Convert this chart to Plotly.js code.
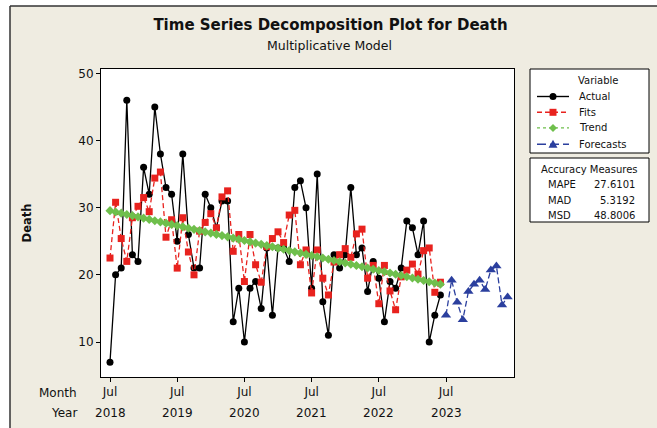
<!DOCTYPE html>
<html><head><meta charset="utf-8">
<script src="https://cdn.plot.ly/plotly-3.0.1.min.js"></script>
<style>html,body{margin:0;padding:0;background:#fff;}#chart{width:657px;height:428px;}</style>
</head><body><div id="chart"></div>
<script>
// ---- data (month index 0 = Jul 2018) ----
const actual = [7,20,21,46,23,22,36,32,45,38,33,32,
                25,38,26,21,21,32,30,27,31,31,13,18,
                10,18,19,15,24,14,24,24,22,33,34,30,
                18,35,16,11,23,21,23,33,23,24,17.5,22,
                19.5,13,19,18,21,28,27,23,28,10,14,17];
const fits = [22.5,30.8,25.4,22.0,28.5,30.2,31.5,29.4,34.4,35.3,25.6,28.2,
              21.0,28.5,23.4,20.0,26.5,27.8,29.1,27.0,31.6,32.5,23.5,26.0,
              19.0,26.0,21.5,18.9,24.2,25.4,26.4,24.8,28.9,29.6,21.5,23.7,
              17.3,23.7,19.5,17.0,21.9,23.0,23.9,22.6,26.1,26.8,19.5,21.4,
              15.7,21.4,17.6,14.8,19.7,20.7,21.6,20.1,23.6,24.0,17.4,18.9];
const trend = [29.55,29.36,29.18,28.99,28.81,28.62,28.44,28.25,28.06,27.88,27.69,27.51,
               27.32,27.14,26.95,26.77,26.58,26.39,26.21,26.02,25.84,25.65,25.47,25.28,
               25.10,24.91,24.72,24.54,24.35,24.17,23.98,23.80,23.61,23.42,23.24,23.05,
               22.87,22.68,22.50,22.31,22.13,21.94,21.75,21.57,21.38,21.20,21.01,20.83,
               20.64,20.46,20.27,20.08,19.90,19.71,19.53,19.34,19.16,18.97,18.79,18.60];
const forecasts = [14.0,19.2,15.9,13.3,17.5,18.6,19.2,17.8,20.7,21.3,15.5,16.7];
const tickVals = [0,12,24,36,48,60];
const tickMonths = ['Jul','Jul','Jul','Jul','Jul','Jul'];
const tickYears = ['2018','2019','2020','2021','2022','2023'];
const legendNames = ['Actual','Fits','Trend','Forecasts'];
const measureNames = ['MAPE','MAD','MSD'];
const measureValues = ['27.6101','5.3192','48.8006'];

const t = actual.map((_, i) => i);
const tf = forecasts.map((_, i) => actual.length + i);

const FONT = 'DejaVu Sans';
const RED = '#e8221e', GREEN = '#6fbf4c', BLUE = '#2b3f9e', BLACK = '#000000';
const BEIGE = '#efece1';

// pixel helpers for layout placement
const L = 101, R = 514, T = 69, B = 377;
const px = x => (x - L) / (R - L);
const py = y => (B - y) / (B - T);

const traces = [
  {x: t, y: actual, name: 'Actual', mode: 'lines+markers',
   line: {color: BLACK, width: 1.3}, marker: {symbol: 'circle', size: 7, color: BLACK}},
  {x: t, y: fits, name: 'Fits', mode: 'lines+markers',
   line: {color: RED, width: 1.3, dash: '5px,3px'}, marker: {symbol: 'square', size: 7, color: RED}},
  {x: t, y: trend, name: 'Trend', mode: 'lines+markers',
   line: {color: GREEN, width: 1.3, dash: '3px,3px'}, marker: {symbol: 'diamond', size: 7, color: GREEN}},
  {x: tf, y: forecasts, name: 'Forecasts', mode: 'lines+markers',
   line: {color: BLUE, width: 1.3, dash: '6px,3px'}, marker: {symbol: 'triangle-up', size: 9, color: BLUE}}
];
traces.forEach(tr => tr.showlegend = false);

const shapes = [
  // white strips outside the outer frame + frame lines
  {type:'rect', xref:'paper', yref:'paper', x0:px(-20), x1:px(10), y0:py(480), y1:py(-20), fillcolor:'#ffffff', line:{width:0}, layer:'below'},
  {type:'rect', xref:'paper', yref:'paper', x0:px(-20), x1:px(700), y0:py(6), y1:py(-20), fillcolor:'#ffffff', line:{width:0}, layer:'below'},
  {type:'line', xref:'paper', yref:'paper', x0:px(10), x1:px(10), y0:py(6), y1:py(480), line:{color:'#333', width:1.5}, layer:'below'},
  {type:'line', xref:'paper', yref:'paper', x0:px(10), x1:px(700), y0:py(6), y1:py(6), line:{color:'#333', width:1.5}, layer:'below'},
  // legend box
  {type:'rect', xref:'paper', yref:'paper', x0:px(530), x1:px(649), y0:py(153), y1:py(69), fillcolor:'#ffffff', line:{color:'#000', width:1}},
  // accuracy box
  {type:'rect', xref:'paper', yref:'paper', x0:px(530), x1:px(649), y0:py(222), y1:py(158), fillcolor:'#ffffff', line:{color:'#000', width:1}}
];
const annotations = [];

// legend entries
const legY = [96.5, 112.3, 127.9, 144.3];
const legStyle = [
  {c: BLACK, dash: 'solid'}, {c: RED, dash: '5px,3px'}, {c: GREEN, dash: '3px,3px'}, {c: BLUE, dash: '9px,4px'}
];
const mx = 553;
legendNames.forEach((nm, k) => {
  const y = legY[k], s = legStyle[k];
  shapes.push({type:'line', xref:'paper', yref:'paper', x0:px(537), x1:px(569), y0:py(y), y1:py(y),
               line:{color:s.c, width:1.4, dash:s.dash}});
  if (k === 0) {
    shapes.push({type:'circle', xref:'paper', yref:'paper', x0:px(mx-3.5), x1:px(mx+3.5), y0:py(y+3.5), y1:py(y-3.5), fillcolor:s.c, line:{width:0}});
  } else if (k === 1) {
    shapes.push({type:'rect', xref:'paper', yref:'paper', x0:px(mx-3.5), x1:px(mx+3.5), y0:py(y+3.5), y1:py(y-3.5), fillcolor:s.c, line:{width:0}});
  } else if (k === 2) {
    const p = `M${px(mx)},${py(y-4)} L${px(mx+4)},${py(y)} L${px(mx)},${py(y+4)} L${px(mx-4)},${py(y)} Z`;
    shapes.push({type:'path', xref:'paper', yref:'paper', path:p, fillcolor:s.c, line:{width:0}});
  } else {
    const p = `M${px(mx)},${py(y-4.5)} L${px(mx+4.5)},${py(y+3.5)} L${px(mx-4.5)},${py(y+3.5)} Z`;
    shapes.push({type:'path', xref:'paper', yref:'paper', path:p, fillcolor:s.c, line:{width:0}});
  }
  annotations.push({xref:'paper', yref:'paper', x:px(577), y:py(y), xanchor:'left', yanchor:'middle',
                    text:nm, showarrow:false, font:{family:FONT, size:10, color:'#111'}});
});
annotations.push({xref:'paper', yref:'paper', x:px(598), y:py(80), xanchor:'center', yanchor:'middle',
                  text:'Variable', showarrow:false, font:{family:FONT, size:10, color:'#111'}});
// accuracy measures
annotations.push({xref:'paper', yref:'paper', x:px(589.5), y:py(169.5), xanchor:'center', yanchor:'middle',
                  text:'Accuracy Measures', showarrow:false, font:{family:FONT, size:10, color:'#111'}});
const accY = [184.5, 200, 215];
measureNames.forEach((nm, k) => {
  annotations.push({xref:'paper', yref:'paper', x:px(546), y:py(accY[k]), xanchor:'left', yanchor:'middle',
                    text:nm, showarrow:false, font:{family:FONT, size:10, color:'#111'}});
  annotations.push({xref:'paper', yref:'paper', x:px(637), y:py(accY[k]), xanchor:'right', yanchor:'middle',
                    text:measureValues[k], showarrow:false, font:{family:FONT, size:10, color:'#111'}});
});
// subtitle
annotations.push({xref:'paper', yref:'paper', x:px(329), y:py(45.5), xanchor:'center', yanchor:'middle',
                  text:'Multiplicative Model', showarrow:false, font:{family:FONT, size:12.5, color:'#111'}});
// Month / Year row labels and year tick labels
annotations.push({xref:'paper', yref:'paper', x:px(79), y:py(392.5), xanchor:'right', yanchor:'middle',
                  text:'Month', showarrow:false, font:{family:FONT, size:12, color:'#111'}});
annotations.push({xref:'paper', yref:'paper', x:px(79), y:py(413), xanchor:'right', yanchor:'middle',
                  text:'Year', showarrow:false, font:{family:FONT, size:12, color:'#111'}});
tickYears.forEach((yr, k) => {
  annotations.push({xref:'x', yref:'paper', x:tickVals[k], y:py(413), xanchor:'center', yanchor:'middle',
                    text:yr, showarrow:false, font:{family:FONT, size:12, color:'#111'}});
});

const layout = {
  width: 657, height: 428,
  margin: {l: L, r: 657 - R, t: T, b: 428 - B, pad: 0},
  paper_bgcolor: BEIGE, plot_bgcolor: '#ffffff',
  font: {family: FONT, size: 12, color: '#111'},
  title: {text: '<b>Time Series Decomposition Plot for Death</b>', x: 330.5/657, xanchor: 'center',
          y: 1 - 24.5/428, yanchor: 'middle', font: {family: FONT, size: 15, color: '#111'}},
  showlegend: false,
  xaxis: {range: [-1.607, 72.14], tickmode: 'array', tickvals: tickVals, ticktext: tickMonths,
          ticks: 'outside', ticklen: 4, tickcolor: '#000', showline: true, mirror: true,
          linecolor: '#000', linewidth: 1, showgrid: false, zeroline: false,
          tickfont: {family: FONT, size: 12, color: '#111'}},
  yaxis: {range: [4.79, 50.64], tickvals: [10,20,30,40,50], ticks: 'outside', ticklen: 4, tickcolor: '#000',
          showline: true, mirror: true, linecolor: '#000', linewidth: 1, showgrid: false, zeroline: false,
          tickfont: {family: FONT, size: 12, color: '#111'},
          title: {text: '<b>Death</b>', standoff: 44, font: {family: FONT, size: 11.5, color: '#111'}}},
  shapes: shapes, annotations: annotations
};
Plotly.newPlot('chart', traces, layout, {displayModeBar: false, staticPlot: true});
</script></body></html>
